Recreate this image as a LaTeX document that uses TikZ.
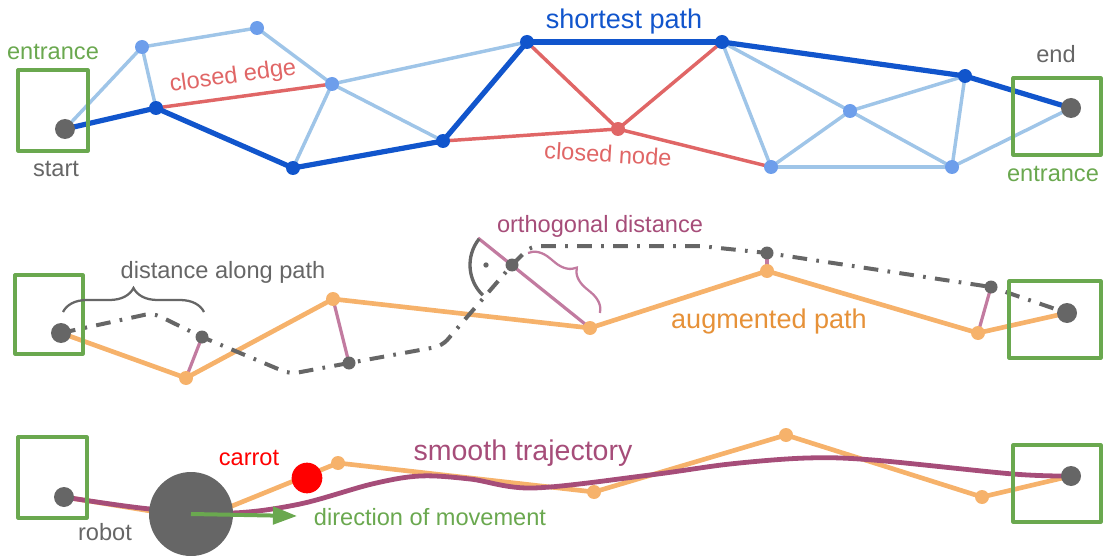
\documentclass[tikz,border=0pt]{standalone}
\usepackage{fontspec}
\setmainfont{Liberation Sans}
\usetikzlibrary{backgrounds,decorations.pathreplacing,arrows.meta}
\definecolor{cgreen}{HTML}{6AA84F}
\definecolor{cdblue}{HTML}{1155CC}
\definecolor{clblue}{HTML}{9FC5E8}
\definecolor{cnblue}{HTML}{6D9EEB}
\definecolor{cred}{HTML}{E06666}
\definecolor{cgray}{HTML}{666666}
\definecolor{corange}{HTML}{F6B26B}
\definecolor{corangetext}{HTML}{E69138}
\definecolor{cpurple}{HTML}{A64D79}
\definecolor{cpink}{HTML}{C27BA0}
\definecolor{ccarrot}{HTML}{FF0000}
\tikzset{
  dotnode/.style={circle, inner sep=0pt, minimum size=#1, draw=none},
  gnode/.style={dotnode=15pt, fill=cgray},
  gsnode/.style={dotnode=9.75pt, fill=cgray},
  lbnode/.style={dotnode=10.5pt, fill=cnblue},
  dbnode/.style={dotnode=10.5pt, fill=cdblue},
  rnode/.style={dotnode=10.5pt, fill=cred},
  onode/.style={dotnode=10.5pt, fill=corange},
  robotnode/.style={dotnode=63pt, fill=cgray},
  carrotnode/.style={dotnode=23pt, fill=ccarrot},
  greenbox/.style={draw=cgreen, line width=2.4pt, line join=round},
  lbedge/.style={draw=clblue, line width=2.6pt},
  dbedge/.style={draw=cdblue, line width=3.9pt},
  redge/.style={draw=cred, line width=2.6pt},
  oedge/.style={draw=corange, line width=3.5pt, line join=round},
  pedge/.style={draw=cpink, line width=2.4pt},
  ddedge/.style={draw=cgray, line width=3pt, dash pattern=on 11pt off 7pt on 2pt off 7pt},
  trajedge/.style={draw=cpurple, line width=3.6pt},
  lbl/.style={inner sep=0pt, font=\fontsize{17.7pt}{21pt}\selectfont},
  lblbig/.style={inner sep=0pt, font=\fontsize{20.3pt}{24pt}\selectfont},
  lbltraj/.style={inner sep=0pt, font=\fontsize{21.4pt}{25pt}\selectfont},
  bracegray/.style={draw=cgray, line width=1.7pt, decorate, decoration={brace, amplitude=#1}},
  bracepink/.style={draw=cpink, line width=1.7pt, decorate, decoration={brace, amplitude=#1}},
}
\begin{document}
\begin{tikzpicture}[x=0.75pt,y=-0.75pt]
\useasboundingbox (0,0) rectangle (1103,556);

% ================= TOP: graph =================
\draw[greenbox] (18,70) rectangle (88,151);
\draw[greenbox] (1013,78) rectangle (1101,155);

\node[gnode] (s1) at (65,129) {};
\node[dbnode] (a) at (156,108) {};
\node[lbnode] (b) at (142,47) {};
\node[lbnode] (c) at (257,28) {};
\node[lbnode] (d) at (332,84) {};
\node[dbnode] (e) at (293,168) {};
\node[dbnode] (f) at (443,141) {};
\node[dbnode] (g) at (527,42) {};
\node[rnode] (h) at (618,129) {};
\node[dbnode] (i) at (722,42) {};
\node[dbnode] (j) at (965,76) {};
\node[lbnode] (k) at (850,111) {};
\node[lbnode] (l) at (771,167) {};
\node[lbnode] (m) at (952,167) {};
\node[gnode] (e1) at (1071,108) {};

\begin{scope}[on background layer]
  \draw[lbedge] (s1.center) -- (b.center);
  \draw[lbedge] (b.center) -- (a.center);
  \draw[lbedge] (b.center) -- (c.center);
  \draw[lbedge] (c.center) -- (d.center);
  \draw[lbedge] (d.center) -- (e.center);
  \draw[lbedge] (d.center) -- (g.center);
  \draw[lbedge] (d.center) -- (f.center);
  \draw[lbedge] (i.center) -- (k.center);
  \draw[lbedge] (i.center) -- (l.center);
  \draw[lbedge] (l.center) -- (k.center);
  \draw[lbedge] (k.center) -- (j.center);
  \draw[lbedge] (l.center) -- (m.center);
  \draw[lbedge] (k.center) -- (m.center);
  \draw[lbedge] (m.center) -- (j.center);
  \draw[lbedge] (m.center) -- (e1.center);
  \draw[redge] (a.center) -- (d.center);
  \draw[redge] (g.center) -- (h.center);
  \draw[redge] (h.center) -- (i.center);
  \draw[redge] (f.center) -- (h.center);
  \draw[redge] (h.center) -- (l.center);
  \draw[dbedge] (s1.center) -- (a.center);
  \draw[dbedge] (a.center) -- (e.center);
  \draw[dbedge] (e.center) -- (f.center);
  \draw[dbedge] (f.center) -- (g.center);
  \draw[dbedge] (g.center) -- (i.center);
  \draw[dbedge] (i.center) -- (j.center);
  \draw[dbedge] (j.center) -- (e1.center);
\end{scope}

\node[lbl, text=cgreen, anchor=base] (t1) at (53,60) {entrance};
\node[lbl, text=cgray, anchor=base] (t2) at (56,176) {start};
\node[lbl, text=cred, rotate=7.8] (t3) at (233,77) {closed edge};
\node[lblbig, text=cdblue, anchor=base] (t4) at (624,29) {shortest path};
\node[lbl, text=cred, rotate=-3.5] (t5) at (608,154) {closed node};
\node[lbl, text=cgray, anchor=base] (t6) at (1056,63) {end};
\node[lbl, text=cgreen, anchor=base] (t7) at (1053,182) {entrance};

% ================= MIDDLE: augmented path =================
\draw[greenbox] (15,275) rectangle (83,354);
\draw[greenbox] (1009,281) rectangle (1101,358);

\node[gnode] (s2) at (61,333) {};
\node[gsnode] (p1) at (202,337) {};
\node[onode] (o1) at (186,378) {};
\node[onode] (o2) at (333,299) {};
\node[gsnode] (p2) at (349,363) {};
\node[gsnode] (q) at (512,265) {};
\node[onode] (o3) at (590,328) {};
\node[gsnode] (r) at (767,253) {};
\node[onode] (o4) at (767,271) {};
\node[gsnode] (s) at (991,287) {};
\node[onode] (o5) at (978,333) {};
\node[gnode] (e2) at (1067,313) {};
\coordinate (qx) at (478,238);
\coordinate (dd1) at (153,313);
\coordinate (dd2) at (290,374);
\coordinate (dd3) at (442,346);
\coordinate (dd4) at (531,246);
\coordinate (dd5) at (700,246);

\begin{scope}[on background layer]
  \draw[oedge] (s2.center) -- (o1.center) -- (o2.center) -- (o3.center) -- (o4.center) -- (o5.center) -- (e2.center);
  \draw[ddedge, rounded corners=6pt] (s2.center) -- (dd1) -- (p1.center) -- (dd2) -- (p2.center) -- (dd3) -- (q.center) -- (dd4) -- (dd5) -- (r.center) -- (s.center) -- (e2.center);
  \draw[pedge] (o1.center) -- (p1.center);
  \draw[pedge] (o2.center) -- (p2.center);
  \draw[pedge] (o3.center) -- (qx);
  \draw[pedge] (o4.center) -- (r.center);
  \draw[pedge] (o5.center) -- (s.center);
\end{scope}

% right angle mark
\draw[cgray, line width=2.5pt] ([shift={(141.5:31.5pt)}]q.center) arc[start angle=141.5, end angle=226, radius=31.5pt];
\fill[cgray] (486,265) circle[radius=2pt];

% braces
\coordinate (bg1) at (63,312);
\coordinate (bg2) at (204,312);
\draw[bracegray=18pt] (bg1) -- (bg2);
\coordinate (bp1) at (528,253);
\coordinate (bp2) at (600,313);
\draw[bracepink=15pt] (bp1) -- (bp2);

\node[lbl, text=cgray, anchor=base] (t8) at (223,278) {distance along path};
\node[lbl, text=cpurple, anchor=base] (t9) at (600,233) {orthogonal distance};
\node[lblbig, text=corangetext, anchor=base] (t10) at (769,328) {augmented path};

% ================= BOTTOM: smooth trajectory =================
\draw[greenbox] (18,437) rectangle (87,518);
\draw[greenbox] (1013,445) rectangle (1101,522);

\node[gnode] (s3) at (64,497) {};
\node[onode] (b1) at (338,463) {};
\node[onode] (b2) at (594,492) {};
\node[onode] (b3) at (786,435) {};
\node[onode] (b4) at (982,497) {};
\node[gnode] (e3) at (1071,476) {};
\coordinate (ob) at (200,519);

\begin{scope}[on background layer]
  \draw[oedge] (s3.center) -- (ob) -- (b1.center) -- (b2.center) -- (b3.center) -- (b4.center) -- (e3.center);
  \draw[trajedge] plot[smooth, tension=0.55] coordinates {(s3.center) (150,509) (232,513) (300,504) (372,484) (420,476) (470,479) (533,488) (650,475) (730,464) (807,458) (873,460) (1013,474) (e3.center)};
\end{scope}

\node[robotnode] (rb) at (191,514) {};
\node[carrotnode] (ca) at (307,478) {};
\coordinate (arrowtip) at (297,516);
\draw[cgreen, line width=3pt, -{Triangle[length=18pt, width=13pt]}] (rb.center) -- (arrowtip);

\node[lbl, text=cgray, anchor=base] (t11) at (105,540) {robot};
\node[lbl, text=ccarrot, anchor=base] (t12) at (249,465) {carrot};
\node[lbltraj, text=cpurple, anchor=base] (t13) at (523,460) {smooth trajectory};
\node[lbl, text=cgreen, anchor=base] (t14) at (430,525) {direction of movement};
\end{tikzpicture}
\end{document}
